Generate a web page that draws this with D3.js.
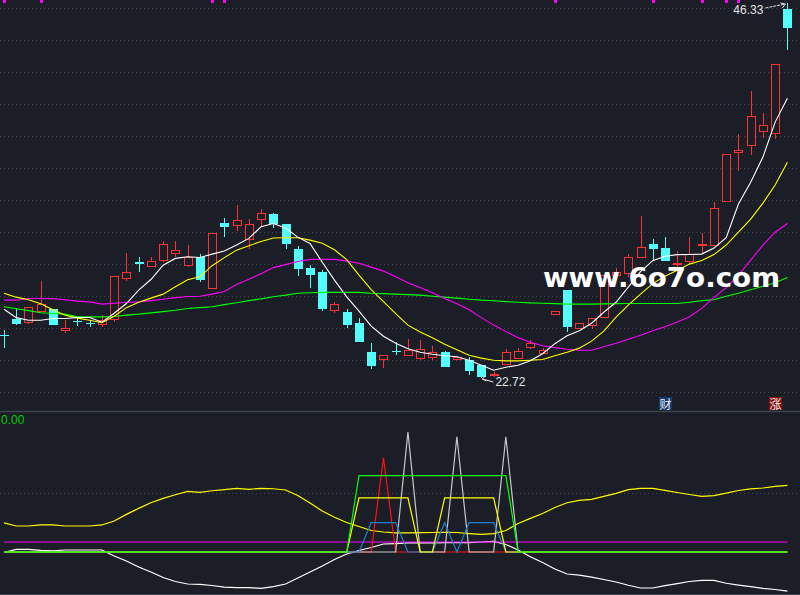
<!DOCTYPE html>
<html>
<head>
<meta charset="utf-8">
<script src="https://cdn.jsdelivr.net/npm/d3@7"></script>
<style>
  body { margin: 0; background: #1b1e27; overflow: hidden; }
  svg { display: block; }
</style>
</head>
<body>
<div id="chart-area"></div>
<script>
// ---- K-line data ----
var opens  = [25.42,26.42,26.23,26.93,27.05,25.73,26.30,26.17,26.11,26.42,
              29.01,30.01,29.76,30.14,30.58,29.82,30.33,28.38,32.47,32.35,
              31.46,32.72,33.04,32.41,30.83,29.64,29.38,26.99,26.86,26.17,
              24.34,23.90,24.41,24.15,23.97,24.03,24.34,23.90,23.84,23.52,
              22.89,23.59,23.97,24.66,24.28,26.74,28.25,25.86,26.05,26.55,
              29.20,29.32,30.33,31.15,30.90,29.89,30.08,31.09,31.09,33.86,
              36.94,37.39,38.27,38.14,45.95];
var highs  = [25.73,27.12,27.18,28.82,27.05,26.36,26.55,26.36,26.68,29.13,
              30.58,30.33,30.33,31.34,31.34,31.09,30.52,31.84,32.79,33.60,
              32.72,33.35,33.10,32.41,31.02,29.82,29.51,27.49,27.05,26.49,
              24.91,24.15,24.97,25.16,25.10,24.72,24.41,24.09,24.03,23.52,
              23.08,24.53,24.60,25.10,24.60,26.93,28.25,26.17,26.49,29.20,
              29.64,30.52,32.91,31.46,31.59,30.71,31.59,31.84,33.79,36.82,
              38.08,40.79,39.40,42.49,46.33];
var lows   = [24.60,26.08,26.11,26.93,26.05,25.54,25.98,25.92,25.92,26.23,
              28.82,29.38,29.70,30.01,30.33,29.70,28.75,28.38,31.59,31.97,
              30.83,32.22,32.16,30.83,29.13,28.38,26.93,26.80,25.86,24.97,
              23.27,23.34,24.15,24.09,23.84,23.84,23.40,23.84,22.89,22.72,
              22.77,23.52,23.97,24.53,24.28,26.74,25.60,25.79,25.79,26.55,
              29.13,29.07,30.27,30.14,30.08,28.94,29.89,30.58,31.09,33.86,
              35.75,36.76,37.83,37.76,43.37];
var closes = [25.38,26.11,27.18,27.37,26.05,25.86,26.27,26.14,26.36,29.13,
              29.38,29.89,30.08,31.15,30.77,30.33,28.88,31.84,32.22,32.66,
              32.41,33.10,32.41,31.15,29.57,29.20,27.05,27.37,26.05,24.97,
              23.46,24.15,24.38,24.47,24.53,24.34,23.40,24.03,23.15,22.76,
              22.96,24.34,24.41,24.91,24.47,26.93,25.92,26.17,26.49,29.20,
              29.38,30.33,30.96,30.83,30.08,29.95,30.52,31.15,33.42,36.82,
              37.07,39.21,38.65,42.49,44.76];

// moving average lines of the main panel
var ma5  = [27.05,26.52,26.36,26.36,26.47,26.47,26.53,26.53,26.23,26.80,
            27.41,28.25,28.92,29.82,30.25,30.35,30.31,30.52,30.71,31.09,
            31.51,32.24,32.45,32.16,31.59,31.19,30.01,28.88,27.83,26.93,
            25.98,25.35,24.91,24.56,24.34,24.22,24.12,24.06,23.84,23.52,
            23.21,23.40,23.52,23.81,24.25,24.88,25.38,25.70,26.17,26.86,
            27.49,28.44,29.42,30.11,30.39,30.49,30.50,30.52,30.90,31.56,
            33.67,35.05,36.63,38.83,40.33];
var ma10 = [28.06,27.81,27.65,27.40,27.02,26.67,26.49,26.36,26.20,26.61,
            27.15,27.49,27.75,28.00,28.47,28.91,29.09,29.79,30.30,30.77,
            31.05,31.31,31.53,31.55,31.55,31.40,31.20,30.79,30.17,29.20,
            28.28,27.53,26.77,26.05,25.62,25.26,24.85,24.50,24.15,23.97,
            23.84,23.80,23.80,23.84,23.88,24.12,24.34,24.60,25.04,25.67,
            26.55,27.31,28.00,28.66,29.13,29.51,29.89,30.12,30.49,31.09,
            31.90,32.72,33.73,34.87,36.30];
var ma20 = [27.62,27.62,27.73,27.73,27.72,27.65,27.56,27.51,27.37,27.43,
            27.49,27.51,27.59,27.68,27.78,27.85,27.87,28.00,28.16,28.60,
            28.94,29.29,29.67,29.86,30.05,30.19,30.19,30.19,30.08,29.95,
            29.70,29.45,29.10,28.72,28.42,28.09,27.73,27.40,27.02,26.52,
            26.05,25.64,25.26,24.97,24.75,24.63,24.53,24.47,24.47,24.69,
            24.91,25.16,25.41,25.70,25.95,26.25,26.58,27.10,27.80,28.41,
            29.20,30.14,31.09,31.90,32.45];
var ma60 = [27.21,27.08,26.96,26.83,26.78,26.74,26.57,26.57,26.57,26.59,
            26.68,26.74,26.82,26.90,26.99,27.10,27.15,27.21,27.34,27.46,
            27.59,27.70,27.84,27.94,28.06,28.09,28.11,28.11,28.11,28.11,
            28.06,28.03,28.00,27.97,27.94,27.87,27.81,27.75,27.68,27.62,
            27.58,27.53,27.49,27.45,27.43,27.40,27.37,27.37,27.37,27.39,
            27.40,27.41,27.41,27.41,27.41,27.41,27.49,27.59,27.65,27.87,
            28.06,28.28,28.50,28.72,29.05];

// top markers (candle index) and the two badges
var markIdx = [0, 3, 17, 18, 45, 53, 57, 59, 60];
var badges = [{i: 54, t: '财', bg: '#123a70'}, {i: 63, t: '涨', bg: '#8a0f10'}];

// ---- lower indicator panel ----
var oscA = [24.7,22.1,22.1,23.0,23.0,22.1,22.1,22.1,23.0,26.4,
            32.0,37.1,41.9,45.6,48.7,51.6,50.7,52.1,53.0,54.1,
            53.3,54.1,53.8,52.7,48.0,41.6,34.9,29.5,25.1,21.7,
            18.3,17.0,16.2,16.2,16.4,16.6,16.7,16.6,15.7,15.0,
            15.7,18.3,24.2,28.6,32.7,37.8,41.9,43.9,44.8,47.3,
            49.9,53.0,54.1,54.1,52.4,50.6,48.9,47.3,48.0,50.0,
            52.3,53.6,54.4,55.8,56.7];
var oscB = [-0.4,2.3,2.3,1.3,0.9,1.7,1.7,1.7,1.7,-3.4,
            -7.7,-12.8,-17.0,-21.7,-25.1,-27.2,-27.6,-28.5,-29.8,-30.3,
            -30.3,-30.9,-29.5,-27.2,-22.1,-17.0,-11.9,-6.4,-1.7,1.3,
            3.8,6.8,7.2,7.7,7.7,7.7,7.9,7.9,7.9,8.5,
            9.1,6.4,1.7,-4.0,-8.9,-14.5,-18.7,-19.6,-21.3,-23.4,
            -25.5,-28.3,-30.6,-30.6,-28.6,-26.9,-25.1,-24.1,-24.1,-26.6,
            -28.1,-29.5,-30.9,-31.9,-33.2];
var refLevel = 8.5;

// signal lines, zero except where they fire
var sigRed    = [0,0,0,0,0,0,0,0,0,0, 0,0,0,0,0,0,0,0,0,0, 0,0,0,0,0,0,0,0,0,0,
                 0,80,0,0,0,0,0,0,0,0, 0,0,0,0,0,0,0,0,0,0, 0,0,0,0,0,0,0,0,0,0, 0,0,0,0,0];
var sigGrey   = [0,0,0,0,0,0,0,0,0,0, 0,0,0,0,0,0,0,0,0,0, 0,0,0,0,0,0,0,0,0,0,
                 0,0,0,102,0,0,0,98,0,0, 0,98,0,0,0,0,0,0,0,0, 0,0,0,0,0,0,0,0,0,0, 0,0,0,0,0];
var sigBlue   = [0,0,0,0,0,0,0,0,0,0, 0,0,0,0,0,0,0,0,0,0, 0,0,0,0,0,0,0,0,0,0,
                 25,25,25,0,0,0,25,0,25,25, 25,0,0,0,0,0,0,0,0,0, 0,0,0,0,0,0,0,0,0,0, 0,0,0,0,0];
var sigYellow = [0,0,0,0,0,0,0,0,0,0, 0,0,0,0,0,0,0,0,0,0, 0,0,0,0,0,0,0,0,0,46,
                 46,46,46,46,0,0,46,46,46,46, 46,0,0,0,0,0,0,0,0,0, 0,0,0,0,0,0,0,0,0,0, 0,0,0,0,0];
var sigGreen  = [0,0,0,0,0,0,0,0,0,0, 0,0,0,0,0,0,0,0,0,0, 0,0,0,0,0,0,0,0,0,65,
                 65,65,65,65,65,65,65,65,65,65, 65,65,0,0,0,0,0,0,0,0, 0,0,0,0,0,0,0,0,0,0, 0,0,0,0,0];

var def = {
    width: 800,
    height: 595,
    bg: '#1b1e27',
    up: '#ff3232',
    down: '#54fcfc',
    grid: '#41454f'
};

var svg = d3.select('#chart-area').append('svg')
    .attr('width', def.width)
    .attr('height', def.height);

svg.append('rect')
    .attr('width', def.width).attr('height', def.height)
    .attr('fill', def.bg);

var n = closes.length;
var x = d3.scaleLinear().domain([0, n - 1]).range([4, 787.4]);
var y = d3.scaleLinear().domain([22.72, 46.33]).range([378, 3]);
var y2 = d3.scaleLinear().domain([0, 50]).range([552, 493.2]);

var px = function(i) { return Math.round(x(i)) + 0.5; };

// grids
var gridRows = d3.range(13).map(function(k) { return 8.5 + 32 * k; });
svg.append('g').selectAll('line').data(gridRows).enter().append('line')
    .attr('x1', 0).attr('x2', def.width)
    .attr('y1', function(d) { return d; }).attr('y2', function(d) { return d; })
    .attr('stroke', def.grid).attr('stroke-dasharray', '1,3');

svg.append('line')
    .attr('x1', 0).attr('x2', def.width)
    .attr('y1', Math.round(y2(50)) + 0.5).attr('y2', Math.round(y2(50)) + 0.5)
    .attr('stroke', def.grid).attr('stroke-dasharray', '1,3');

// panel borders
svg.append('line').attr('x1', 0).attr('x2', def.width).attr('y1', 411.5).attr('y2', 411.5)
    .attr('stroke', '#3e434e').attr('stroke-width', 1.5);
svg.append('line').attr('x1', 0).attr('x2', def.width).attr('y1', 594.5).attr('y2', 594.5)
    .attr('stroke', '#3e434e');

// candles
var idx = d3.range(n);
var isUp = function(i) { return closes[i] >= opens[i]; };
var candles = svg.append('g').attr('shape-rendering', 'crispEdges');
candles.selectAll('line.wick').data(idx).enter().append('line')
    .attr('class', 'wick')
    .attr('x1', px).attr('x2', px)
    .attr('y1', function(i) { return y(highs[i]); })
    .attr('y2', function(i) { return y(lows[i]); })
    .attr('stroke', function(i) { return isUp(i) ? def.up : def.down; });

candles.selectAll('rect.body').data(idx).enter().append('rect')
    .attr('class', 'body')
    .attr('x', function(i) { return isUp(i) ? px(i) - 4 : px(i) - 4.5; })
    .attr('width', function(i) { return isUp(i) ? 8 : 9; })
    .attr('y', function(i) { return Math.round(Math.min(y(opens[i]), y(closes[i]))) + (isUp(i) ? 0.5 : 0); })
    .attr('height', function(i) { return Math.max(1, Math.round(Math.abs(y(opens[i]) - y(closes[i])))); })
    .attr('fill', function(i) { return isUp(i) ? def.bg : def.down; })
    .attr('stroke', function(i) { return isUp(i) ? def.up : 'none'; });

// moving averages
var maLine = d3.line().x(function(d, i) { return x(i); }).y(function(d) { return y(d); });
[[ma60, '#00ff00'], [ma20, '#ff00ff'], [ma10, '#ffff00'], [ma5, '#ffffff']].forEach(function(s) {
    svg.append('path').datum(s[0])
        .attr('d', maLine)
        .attr('fill', 'none')
        .attr('stroke', s[1])
        .attr('stroke-width', 1.1);
});

// top markers
svg.append('g').selectAll('rect').data(markIdx).enter().append('rect')
    .attr('x', function(i) { return Math.round(x(i)) - 1; })
    .attr('y', 0).attr('width', 3).attr('height', 3)
    .attr('fill', '#ff00ff');

// high / low labels
var hiIdx = d3.maxIndex(highs), loIdx = d3.minIndex(lows);
svg.append('text')
    .attr('x', x(hiIdx) - 24).attr('y', 14)
    .attr('text-anchor', 'end')
    .attr('font-family', 'Liberation Sans, Arial, sans-serif').attr('font-size', '12px')
    .attr('fill', '#e6e6e6')
    .text(d3.max(highs).toFixed(2));
svg.append('path')
    .attr('d', 'M' + (x(hiIdx) - 22) + ',8 L' + (x(hiIdx) - 2) + ',' + (y(highs[hiIdx]) + 1))
    .attr('stroke', '#e6e6e6').attr('stroke-dasharray', '3,1').attr('fill', 'none');
svg.append('path')
    .attr('d', 'M' + (x(hiIdx) - 7) + ',' + (y(highs[hiIdx]) + 0) + ' L' + (x(hiIdx) - 2) + ',' + (y(highs[hiIdx]) + 1) +
               ' L' + (x(hiIdx) - 5) + ',' + (y(highs[hiIdx]) + 5))
    .attr('stroke', '#e6e6e6').attr('fill', 'none');

svg.append('text')
    .attr('x', x(loIdx) + 14).attr('y', 386)
    .attr('font-family', 'Liberation Sans, Arial, sans-serif').attr('font-size', '12px')
    .attr('fill', '#e6e6e6')
    .text(d3.min(lows).toFixed(2));
svg.append('path')
    .attr('d', 'M' + (x(loIdx) + 1) + ',' + (y(lows[loIdx]) + 1) + ' L' + (x(loIdx) + 12) + ',' + (y(lows[loIdx]) + 4))
    .attr('stroke', '#e6e6e6').attr('fill', 'none');
svg.append('path')
    .attr('d', 'M' + (x(loIdx) + 4) + ',' + (y(lows[loIdx]) - 2) + ' L' + (x(loIdx) + 1) + ',' + (y(lows[loIdx]) + 1) +
               ' L' + (x(loIdx) + 5) + ',' + (y(lows[loIdx]) + 3))
    .attr('stroke', '#e6e6e6').attr('fill', 'none');

// badges
var bg = svg.append('g').selectAll('g').data(badges).enter().append('g');
bg.append('rect')
    .attr('x', function(d) { return Math.round(x(d.i)) - 6; }).attr('y', 397)
    .attr('width', 13).attr('height', 13)
    .attr('fill', function(d) { return d.bg; });
bg.append('text')
    .attr('x', function(d) { return Math.round(x(d.i)) + 0.5; }).attr('y', 408.5)
    .attr('text-anchor', 'middle')
    .attr('font-family', 'Noto Sans CJK SC, sans-serif').attr('font-size', '12px')
    .attr('fill', '#eeeeee')
    .text(function(d) { return d.t; });

// ---- lower panel ----
var lowLine = d3.line().x(function(d, i) { return x(i); }).y(function(d) { return y2(d); });
var lower = svg.append('g');

lower.append('path').datum(oscA).attr('d', lowLine)
    .attr('fill', 'none').attr('stroke', '#ffff00').attr('stroke-width', 1.2);
lower.append('path').datum(oscB).attr('d', lowLine)
    .attr('fill', 'none').attr('stroke', '#ffffff').attr('stroke-width', 1.2);
lower.append('line')
    .attr('x1', x(0)).attr('x2', x(n - 1))
    .attr('y1', y2(refLevel)).attr('y2', y2(refLevel))
    .attr('stroke', '#ff00ff').attr('stroke-width', 1.2);

[[sigRed, '#ff1010'], [sigGrey, '#c8c8c8'], [sigBlue, '#1a84d0'],
 [sigYellow, '#ffff00'], [sigGreen, '#00ff00']].forEach(function(s) {
    lower.append('path').datum(s[0])
        .attr('d', lowLine)
        .attr('fill', 'none')
        .attr('stroke', s[1])
        .attr('stroke-width', 1.2);
});

svg.append('text')
    .attr('x', 1).attr('y', 424)
    .attr('font-family', 'Liberation Sans, Arial, sans-serif').attr('font-size', '12px')
    .attr('fill', '#00d000')
    .text('0.00');

// watermark
svg.append('text')
    .attr('x', 543).attr('y', 287)
    .attr('font-family', 'DejaVu Sans, sans-serif').attr('font-weight', 'bold')
    .attr('font-size', '27px')
    .attr('textLength', 237).attr('lengthAdjust', 'spacingAndGlyphs')
    .attr('fill', '#ffffff')
    .text('www.6o7o.com');
</script>
</body>
</html>
